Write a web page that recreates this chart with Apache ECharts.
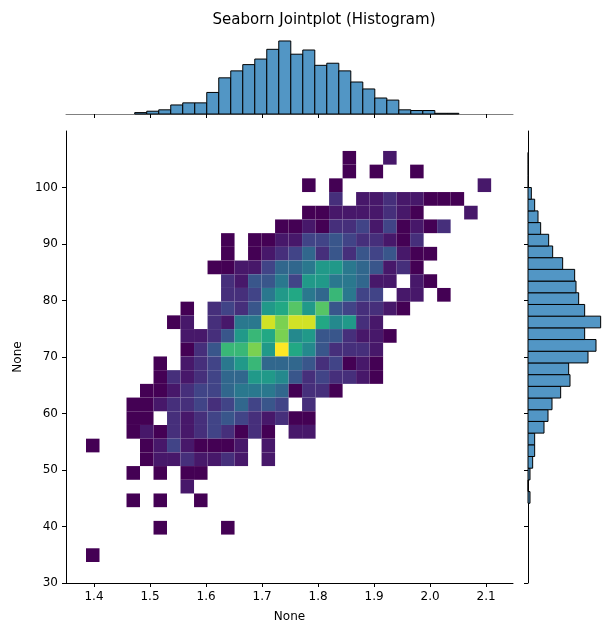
<!DOCTYPE html>
<html>
<head>
<meta charset="utf-8">
<script src="https://cdn.jsdelivr.net/npm/echarts@6/dist/echarts.min.js"></script>
<style>html,body{margin:0;padding:0;background:#fff}#main{width:613px;height:636px}</style>
</head>
<body>
<div id="main"></div>
<script>
// 2D histogram: 30 x-bins by 30 y-bins, row 0 is the top row
const xStart = 1.3857, xBin = 0.02411;
const yStart = 33.72, yBin = 2.425;
const countRows = [
  [0,0,0,0,0,0,0,0,0,0, 0,0,0,0,0,0,0,0,0,1, 0,0,2],
  [0,0,0,0,0,0,0,0,0,0, 0,0,0,0,0,0,0,0,0,1, 0,1,0,0,1],
  [0,0,0,0,0,0,0,0,0,0, 0,0,0,0,0,0,1,0,1,0, 0,0,0,0,0,0,0,0,0,2],
  [0,0,0,0,0,0,0,0,0,0, 0,0,0,0,0,0,0,0,3,0, 2,2,3,2,2,1,1,1],
  [0,0,0,0,0,0,0,0,0,0, 0,0,0,0,0,0,1,1,2,2, 2,2,3,2,1,0,0,0,2],
  [0,0,0,0,0,0,0,0,0,0, 0,0,0,0,1,1,2,1,3,3, 4,2,4,1,2,1,3],
  [0,0,0,0,0,0,0,0,0,0, 1,0,1,1,2,2,4,4,5,4, 3,3,2,1,3],
  [0,0,0,0,0,0,0,0,0,0, 1,0,1,2,3,4,6,3,5,3, 5,4,5,2,1,1],
  [0,0,0,0,0,0,0,0,0,1, 1,2,2,4,6,6,7,9,9,7, 6,5,2,3,1],
  [0,0,0,0,0,0,0,0,0,0, 3,2,5,5,7,4,9,9,7,7, 6,2,2,0,2,1],
  [0,0,0,0,0,0,0,0,0,0, 3,3,4,7,9,10,7,6,11,7, 4,4,0,2,2,0,1],
  [0,0,0,0,0,0,0,1,0,3, 4,3,5,9,10,12,9,12,5,4, 3,3,2,1],
  [0,0,0,0,0,0,1,2,0,3, 2,7,7,15,13,15,15,10,8,9, 3,2],
  [0,0,0,0,0,0,0,2,2,3, 5,9,11,10,13,8,9,5,5,3, 2,2,1],
  [0,0,0,0,0,0,0,1,3,5, 11,11,13,9,16,10,8,5,3,3, 3,2],
  [0,0,0,0,0,1,0,2,3,4, 7,9,11,6,6,6,5,3,4,1, 2,1],
  [0,0,0,0,0,1,3,2,3,4, 6,6,9,9,8,5,3,4,3,3, 2,1],
  [0,0,0,0,1,1,2,3,4,4, 6,7,7,7,6,1,3,3,1],
  [0,0,0,1,1,2,3,3,4,3, 4,6,4,5,4,0,3],
  [0,0,0,1,1,0,3,2,3,4, 5,4,3,2,3,1,1],
  [0,0,0,1,2,1,3,2,3,4, 3,1,3,1,0,2,2],
  [1,0,0,0,1,2,4,2,1,1, 1,2,0,2],
  [0,0,0,0,1,2,2,3,2,2, 3,2,0,2],
  [0,0,0,1,0,1,0,1,1],
  [0,0,0,0,0,0,0,2],
  [0,0,0,1,0,1,0,0,1],
  [],
  [0,0,0,0,0,1,0,0,0,0, 1],
  [],
  [1]
];

// marginal histograms
const topStart = 1.4727, topBin = 0.02143;
const topCounts = [2,4,6,13,16,16,31,52,62,71,79,93,105,86,92,70,73,62,46,36,23,20,6,5,5,1,1];
const rightStart = 44.11, rightBin = 2.07;
// bottom to top
const rightCounts = [3,0,3,7,10,10,24,30,36,49,63,61,90,102,85,109,85,76,72,70,52,37,31,19,15,10,5,0.5,0.5,0.5];

const xTicks = [1.4,1.5,1.6,1.7,1.8,1.9,2.0,2.1];
const yTicks = [30,40,50,60,70,80,90,100];

const viridis = ['#440154','#482475','#414487','#355f8d','#2a788e','#21918c','#22a884','#44bf70','#7ad151','#bddf26','#fde725'];
function hex(c) { return [1,3,5].map(i => parseInt(c.substr(i,2),16)); }
function colorOf(v, max) {
  let t = (v - 1) / (max - 1) * (viridis.length - 1);
  let i = Math.min(Math.floor(t), viridis.length - 2), f = t - i;
  let a = hex(viridis[i]), b = hex(viridis[i+1]);
  return 'rgb(' + a.map((x, k) => Math.round(x + (b[k]-x)*f)).join(',') + ')';
}

let cells = [];
let maxCount = 0;
countRows.forEach((row, r) => row.forEach((v, c) => {
  if (v > 0) {
    cells.push([xStart + c*xBin, yStart + (29-r)*yBin, v]);
    maxCount = Math.max(maxCount, v);
  }
}));
const topData = topCounts.map((v, i) => [topStart + i*topBin, v]);
const rightData = rightCounts.map((v, i) => [rightStart + i*rightBin, v]);

const tickStyle = { show: true, length: 4, lineStyle: { color: '#000' } };
const lineStyle = { show: true, lineStyle: { color: '#000', width: 1 } };
const labelStyle = { color: '#000', fontSize: 12, fontFamily: 'DejaVu Sans' };

const chart = echarts.init(document.getElementById('main'));
chart.setOption({
  animation: false,
  title: { text: 'Seaborn Jointplot (Histogram)', left: 319, top: 8, textAlign: 'center',
    textStyle: { fontSize: 15, fontWeight: 'normal', color: '#000', fontFamily: 'DejaVu Sans' } },
  grid: [
    { left: 66, top: 131, width: 447, height: 452 },
    { left: 66, top: 40, width: 447, height: 74 },
    { left: 528, top: 131, width: 80, height: 452 }
  ],
  xAxis: [
    { gridIndex: 0, type: 'value', min: 1.35, max: 2.148, splitLine: { show: false },
      axisLine: lineStyle, axisTick: Object.assign({ customValues: xTicks }, tickStyle),
      axisLabel: Object.assign({ customValues: xTicks, formatter: v => v.toFixed(1) }, labelStyle),
      name: 'None', nameLocation: 'middle', nameGap: 28, nameTextStyle: labelStyle },
    { gridIndex: 1, type: 'value', min: 1.35, max: 2.148, splitLine: { show: false },
      axisLine: { show: true, lineStyle: { color: '#000', width: 0.5 } },
      axisTick: Object.assign({ customValues: xTicks }, tickStyle),
      axisLabel: { show: false } },
    { gridIndex: 2, type: 'value', min: 0, max: 120, show: false }
  ],
  yAxis: [
    { gridIndex: 0, type: 'value', min: 30, max: 110, splitLine: { show: false },
      axisLine: lineStyle, axisTick: Object.assign({ customValues: yTicks }, tickStyle),
      axisLabel: Object.assign({ customValues: yTicks }, labelStyle),
      name: 'None', nameLocation: 'middle', nameGap: 42, nameRotate: 90, nameTextStyle: labelStyle },
    { gridIndex: 1, type: 'value', min: 0, max: 106.4, show: false },
    { gridIndex: 2, type: 'value', min: 30, max: 110, splitLine: { show: false },
      axisLine: lineStyle, axisTick: Object.assign({ customValues: yTicks }, tickStyle),
      axisLabel: { show: false } }
  ],
  series: [
    { type: 'custom', xAxisIndex: 0, yAxisIndex: 0, data: cells,
      renderItem: (params, api) => {
        const p0 = api.coord([api.value(0), api.value(1) + yBin]);
        const p1 = api.coord([api.value(0) + xBin, api.value(1)]);
        return { type: 'rect', shape: { x: p0[0], y: p0[1], width: p1[0]-p0[0], height: p1[1]-p0[1] },
          style: { fill: colorOf(api.value(2), maxCount) } };
      } },
    { type: 'custom', xAxisIndex: 1, yAxisIndex: 1, data: topData,
      renderItem: (params, api) => {
        const p0 = api.coord([api.value(0), api.value(1)]);
        const p1 = api.coord([api.value(0) + topBin, 0]);
        return { type: 'rect', shape: { x: p0[0], y: p0[1], width: p1[0]-p0[0], height: p1[1]-p0[1] },
          style: { fill: '#5296c5', stroke: '#000', lineWidth: 1 } };
      } },
    { type: 'custom', xAxisIndex: 2, yAxisIndex: 2, data: rightData,
      renderItem: (params, api) => {
        const p0 = api.coord([0, api.value(0) + rightBin]);
        const p1 = api.coord([api.value(1), api.value(0)]);
        return { type: 'rect', shape: { x: p0[0], y: p0[1], width: p1[0]-p0[0], height: p1[1]-p0[1] },
          style: { fill: '#5296c5', stroke: '#000', lineWidth: 1 } };
      } }
  ]
});
</script>
</body>
</html>
